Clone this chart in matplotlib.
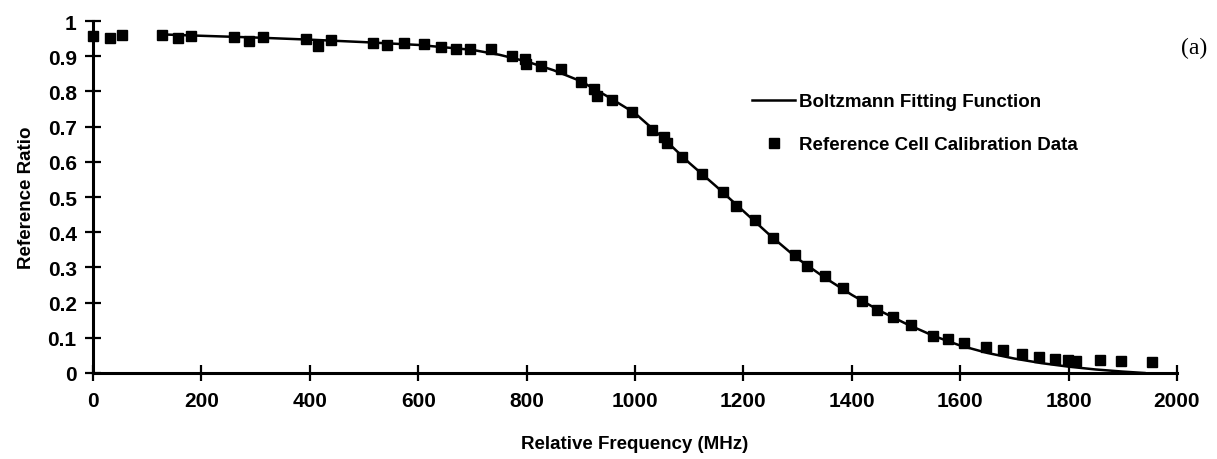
import matplotlib
matplotlib.use("Agg")
import matplotlib.pyplot as plt

# ---- data ----
data_freq = [0, 31, 54, 127, 157, 181, 260, 288, 314, 393, 415, 439, 517, 542,
             574, 611, 642, 670, 696, 734, 773, 797, 799, 827, 863, 900, 924,
             930, 958, 994, 1031, 1054, 1059, 1087, 1124, 1162, 1186, 1221,
             1255, 1295, 1317, 1351, 1384, 1419, 1446, 1476, 1509, 1550, 1577,
             1607, 1648, 1679, 1714, 1745, 1775, 1799, 1814, 1858, 1897, 1954]
data_ratio = [0.957, 0.952, 0.960, 0.960, 0.952, 0.957, 0.955, 0.943, 0.955,
              0.949, 0.929, 0.946, 0.938, 0.932, 0.938, 0.935, 0.926, 0.920,
              0.920, 0.920, 0.900, 0.892, 0.878, 0.872, 0.864, 0.827, 0.807,
              0.787, 0.776, 0.741, 0.690, 0.670, 0.653, 0.614, 0.565, 0.514,
              0.474, 0.435, 0.383, 0.335, 0.304, 0.276, 0.241, 0.205, 0.179,
              0.159, 0.136, 0.105, 0.097, 0.085, 0.074, 0.065, 0.054, 0.046,
              0.040, 0.038, 0.035, 0.038, 0.035, 0.030]

fit_freq = [125, 200, 300, 400, 500, 600, 700, 750, 800, 850, 900, 950, 1000,
            1050, 1100, 1150, 1200, 1250, 1300, 1350, 1400, 1450, 1500, 1550,
            1600, 1650, 1700, 1750, 1800, 1850, 1900, 1940]
fit_ratio = [0.962, 0.958, 0.953, 0.947, 0.940, 0.932, 0.918, 0.904, 0.885,
             0.860, 0.829, 0.785, 0.738, 0.670, 0.597, 0.530, 0.460, 0.390,
             0.325, 0.271, 0.222, 0.178, 0.140, 0.106, 0.078, 0.057, 0.041,
             0.028, 0.018, 0.010, 0.004, 0.000]

x_ticks = [0, 200, 400, 600, 800, 1000, 1200, 1400, 1600, 1800, 2000]
y_ticks = [0, 0.1, 0.2, 0.3, 0.4, 0.5, 0.6, 0.7, 0.8, 0.9, 1]
y_tick_labels = ["0", "0.1", "0.2", "0.3", "0.4", "0.5", "0.6", "0.7", "0.8", "0.9", "1"]

plt.rcParams['font.family'] = ['Liberation Sans', 'DejaVu Sans']

fig = plt.figure(figsize=(12.17, 4.60), dpi=100)
ax = fig.add_axes([93/1217, 86/460, 1084/1217, 352/460])

line, = ax.plot(fit_freq, fit_ratio, color='black', lw=1.8, clip_on=False,
                label='Boltzmann Fitting Function', zorder=2)
pts, = ax.plot(data_freq, data_ratio, ls='none', marker='s', ms=6.5,
               color='black', clip_on=False, zorder=3,
               label='Reference Cell Calibration Data')

ax.set_xlim(0, 2000)
ax.set_ylim(0, 1)
for s in ['top', 'right']:
    ax.spines[s].set_visible(False)
for s in ['left', 'bottom']:
    ax.spines[s].set_linewidth(2.2)

ax.set_xticks(x_ticks)
ax.set_yticks(y_ticks)
ax.set_yticklabels(y_tick_labels)
ax.tick_params(axis='both', direction='inout', length=11.5, width=1.6,
               labelsize=15)
ax.tick_params(axis='x', pad=7)
ax.tick_params(axis='y', pad=6)
for lab in ax.get_xticklabels() + ax.get_yticklabels():
    lab.set_fontweight('bold')

ax.set_xlabel('Relative Frequency (MHz)', fontsize=13.5, fontweight='bold',
              labelpad=18)
ax.set_ylabel('Reference Ratio', fontsize=13.5, fontweight='bold', labelpad=9)

leg = ax.legend(handles=[line, pts], loc='upper left',
                bbox_to_anchor=(752/1217, 1 - 94/460),
                bbox_transform=fig.transFigure, frameon=False,
                prop={'weight': 'bold', 'size': 13.5},
                handlelength=2.3, handletextpad=0.2, labelspacing=1.4,
                borderpad=0, borderaxespad=0)

fig.text(1207/1217, 1 - 48/460, '(a)', ha='right', va='center',
         fontsize=17, family=['Liberation Serif', 'DejaVu Serif'])

fig.savefig('out.png', dpi=100)
